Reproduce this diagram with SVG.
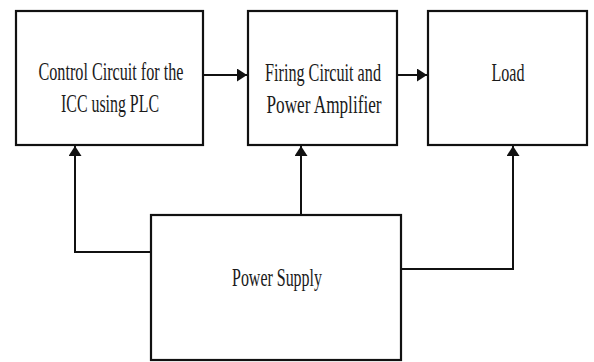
<svg xmlns="http://www.w3.org/2000/svg" width="594" height="362" viewBox="0 0 594 362">
  <style>
    .box { fill: #ffffff; stroke: #111111; stroke-width: 2.2; }
    .conn { fill: none; stroke: #111111; stroke-width: 2; }
    .lbl { font-family: "Liberation Serif", "Times New Roman", serif; font-size: 26px; fill: #1a1a1a; text-anchor: middle; }
  </style>
  <defs>
    <marker id="arrow" markerUnits="userSpaceOnUse" markerWidth="11" markerHeight="13" refX="10" refY="6.5" orient="auto">
      <path d="M0,0 L10,6.5 L0,13 Z" fill="#111111"/>
    </marker>
  </defs>
  <rect width="594" height="362" fill="#ffffff"/>
  <g id="connectors">
    <path class="conn" d="M203,75 H247" marker-end="url(#arrow)"/>
    <path class="conn" d="M397,75 H427" marker-end="url(#arrow)"/>
    <path class="conn" d="M151,252 H75 V146" marker-end="url(#arrow)"/>
    <path class="conn" d="M301,215 V146" marker-end="url(#arrow)"/>
    <path class="conn" d="M401,269 H513 V146" marker-end="url(#arrow)"/>
  </g>
  <g id="control">
    <rect class="box" x="16" y="11" width="187" height="134"/>
    <text class="lbl" x="111" y="80" textLength="145" lengthAdjust="spacingAndGlyphs">Control Circuit for the</text>
    <text class="lbl" x="110" y="112" textLength="98" lengthAdjust="spacingAndGlyphs">ICC using PLC</text>
  </g>
  <g id="firing">
    <rect class="box" x="248" y="11" width="149" height="134"/>
    <text class="lbl" x="323" y="81" textLength="116" lengthAdjust="spacingAndGlyphs">Firing Circuit and</text>
    <text class="lbl" x="324" y="113" textLength="115" lengthAdjust="spacingAndGlyphs">Power Amplifier</text>
  </g>
  <g id="load">
    <rect class="box" x="428" y="11" width="159" height="134"/>
    <text class="lbl" x="508" y="81" textLength="33" lengthAdjust="spacingAndGlyphs">Load</text>
  </g>
  <g id="power">
    <rect class="box" x="151" y="215" width="250" height="145"/>
    <text class="lbl" x="277" y="286" textLength="90" lengthAdjust="spacingAndGlyphs">Power Supply</text>
  </g>
</svg>
